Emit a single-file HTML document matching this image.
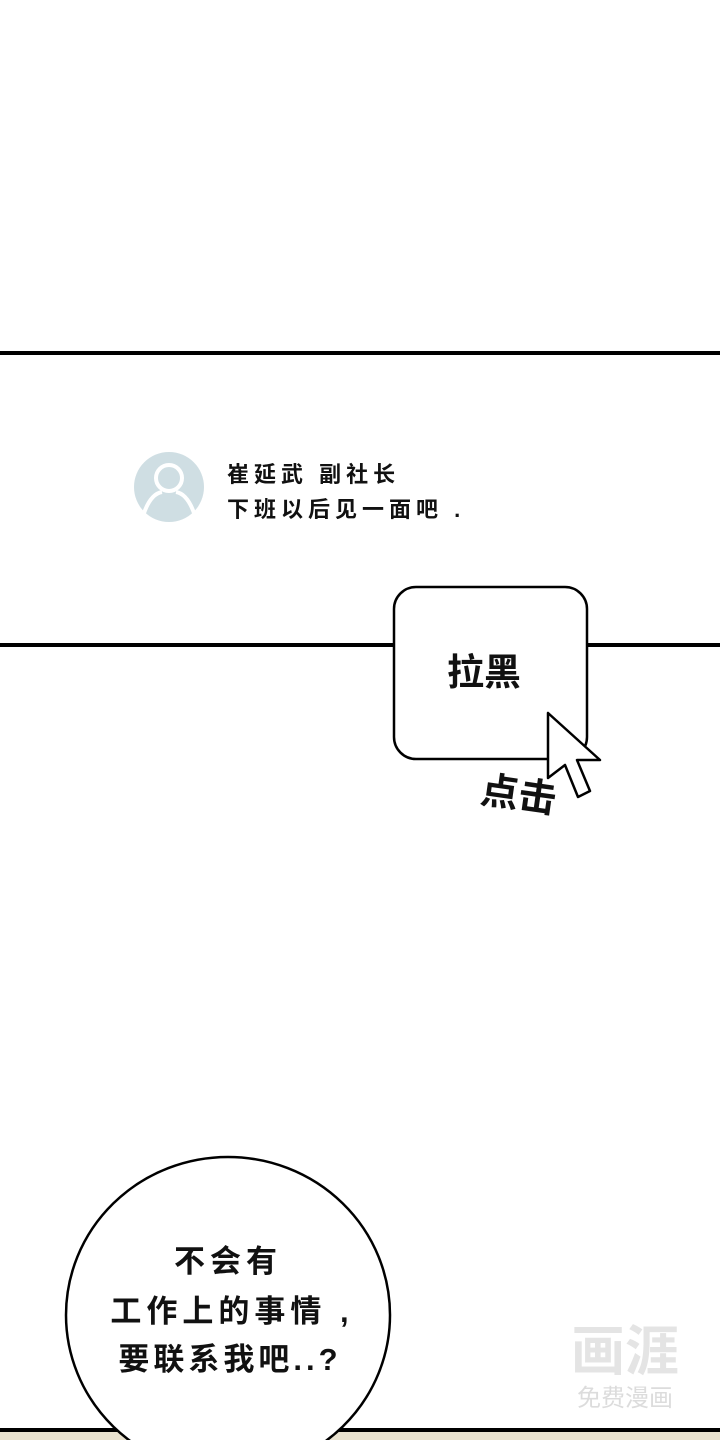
<!DOCTYPE html>
<html><head><meta charset="utf-8"><style>
body{margin:0;width:720px;height:1440px;background:#fff;overflow:hidden}
text{font-family:"Liberation Sans","Noto Sans CJK SC","WenQuanYi Zen Hei",sans-serif}
</style></head><body>
<svg width="720" height="1440" viewBox="0 0 720 1440" xmlns="http://www.w3.org/2000/svg">
<rect width="720" height="1440" fill="#fff"/>
<rect x="0" y="351" width="720" height="4" fill="#000"/>
<rect x="0" y="643" width="720" height="4" fill="#000"/>
<circle cx="169" cy="487" r="35" fill="#cfdee3"/>
<circle cx="169" cy="478" r="13" fill="none" stroke="#fff" stroke-width="4"/>
<path d="M143 516 Q150 494 162 492 M195 516 Q188 494 176 492" fill="none" stroke="#fff" stroke-width="4"/>
<text x="227" y="482" font-size="22" font-weight="bold" fill="#111" letter-spacing="5">崔延武 副社长</text>
<text x="227" y="517" font-size="22" font-weight="bold" fill="#111" letter-spacing="5">下班以后见一面吧 .</text>
<rect x="394" y="587" width="193" height="172" rx="22" fill="#fff" stroke="#000" stroke-width="2.5"/>
<text x="447" y="685" font-size="37" font-weight="bold" fill="#111">拉黑</text>
<path d="M548 713 L548 778 L565 765 L578 797 L590 791 L577 760 L600 760 Z" fill="#fff" stroke="#000" stroke-width="2.5" stroke-linejoin="round"/>
<text x="480" y="808" font-size="38" font-weight="bold" fill="#111" transform="rotate(8 520 800)">点击</text>
<rect x="0" y="1428" width="720" height="12" fill="#e9e2cf"/>
<rect x="0" y="1428" width="720" height="4" fill="#000"/>
<ellipse cx="228" cy="1315" rx="162" ry="158" fill="#fff" stroke="#000" stroke-width="2.5"/>
<text x="228" y="1272" font-size="31" font-weight="bold" fill="#111" text-anchor="middle" letter-spacing="5">不会有</text>
<text x="232" y="1322" font-size="31" font-weight="bold" fill="#111" text-anchor="middle" letter-spacing="5">工作上的事情 ,</text>
<text x="230" y="1370" font-size="31" font-weight="bold" fill="#111" text-anchor="middle" letter-spacing="4">要联系我吧..?</text>
<text x="625" y="1370" font-size="54" font-weight="bold" fill="#e4e4e4" text-anchor="middle">画涯</text>
<text x="625" y="1406" font-size="24" fill="#dcdcdc" text-anchor="middle">免费漫画</text>
</svg>
</body></html>
